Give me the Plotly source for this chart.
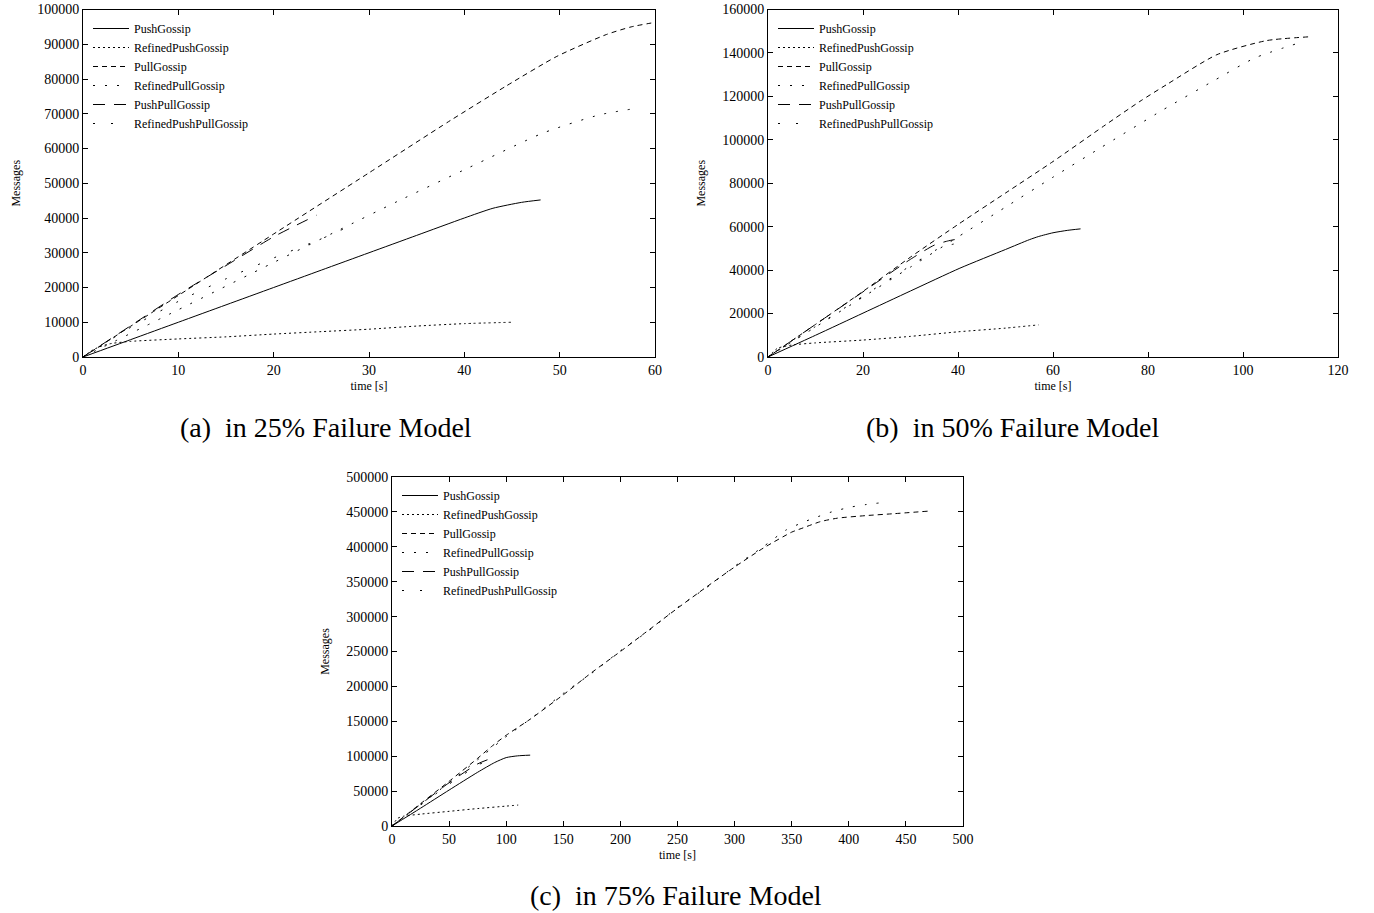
import plotly.graph_objects as go

W, H = 1374, 913
FONT = "Liberation Serif"

series_names = ["PushGossip", "RefinedPushGossip", "PullGossip",
                "RefinedPullGossip", "PushPullGossip", "RefinedPushPullGossip"]

# ---------- (a) 25% failure model ----------
a_push_t = [0, 5, 10, 15, 20, 25, 30, 35, 40, 43, 46, 48]
a_push_v = [0, 5000, 10000, 15000, 20000, 25000, 30000, 35000, 40000, 42800, 44500, 45200]
a_rpush_t = [0, 1, 2, 3, 5, 10, 15, 20, 25, 30, 35, 40, 45]
a_rpush_v = [0, 2000, 3200, 3900, 4500, 5200, 5800, 6600, 7300, 8000, 8900, 9600, 10000]
a_pull_t = [0, 10, 20, 30, 38.5, 44.4, 49.7, 54.9, 57.5, 60]
a_pull_v = [0, 17700, 35400, 53000, 68000, 78000, 86500, 92800, 95000, 96300]
a_rpull_t = [0, 10, 20, 26.9, 33, 40.4, 48.3, 54.2, 57.9]
a_rpull_v = [0, 13600, 27200, 36600, 44800, 54400, 64500, 69700, 71500]
a_pp_t = [0, 5, 10, 15, 20, 24.5]
a_pp_v = [0, 9000, 18000, 26300, 34600, 40800]
a_rpp_t = [0, 5, 10, 15, 20, 25, 28.5]
a_rpp_v = [0, 8500, 16000, 22500, 28500, 34000, 38300]

# ---------- (b) 50% failure model ----------
b_push_t = [0, 10, 20, 30, 40.4, 50, 55, 57, 60, 63, 65.8]
b_push_v = [0, 10000, 20200, 30400, 40900, 49500, 54000, 55500, 57200, 58300, 59000]
b_rpush_t = [0, 2, 5, 10, 20, 30, 40, 50, 57]
b_rpush_v = [0, 4000, 5500, 6500, 7800, 9500, 11600, 13300, 14800]
b_pull_t = [0, 10, 20, 30, 40.4, 50, 60, 70.6, 78.3, 83.9, 94.5, 105, 113.7]
b_pull_v = [0, 15000, 30200, 46000, 61600, 75500, 90000, 106200, 117700, 125400, 139200, 145700, 147400]
b_rpull_t = [0, 10, 20, 30, 40, 50, 60, 70, 83, 94, 102.5, 111.2]
b_rpull_v = [0, 13800, 27600, 41400, 55300, 69000, 82800, 96300, 113600, 127400, 137700, 144200]
b_pp_t = [0, 10, 20, 30, 35, 38, 40.5]
b_pp_v = [0, 15000, 30000, 45000, 51500, 53500, 54500]
b_rpp_t = [0, 10, 20, 30, 36, 40]
b_rpp_v = [0, 14000, 28000, 42000, 50000, 52500]

# ---------- (c) 75% failure model ----------
c_push_t = [0, 25, 50, 75, 90, 100, 110, 121]
c_push_v = [0, 25500, 51500, 77000, 91000, 98000, 100500, 101500]
c_rpush_t = [0, 5, 10, 25, 50, 75, 100, 110.5]
c_rpush_v = [0, 11000, 14000, 17000, 21000, 25000, 28500, 30000]
c_pull_t = [0, 25, 50, 75, 88, 100, 121, 150, 175, 200, 225, 250, 275, 300, 325, 350,
            360, 375, 390, 415, 440, 469]
c_pull_v = [0, 32000, 64000, 97000, 115000, 130000, 153000, 188000, 220000, 250000, 281000,
            312000, 342000, 371000, 398000, 421000, 427100, 436000, 441000, 444700, 447500, 451000]
c_rpull_t = [0, 25, 50, 75, 100, 125, 150, 175, 200, 225, 250, 275, 300, 325, 345, 360, 370,
             385, 400.8, 415, 431.4]
c_rpull_v = [0, 31000, 62000, 95000, 128000, 158000, 190000, 219000, 251000, 280000, 313000,
             341000, 372000, 400000, 424000, 435100, 441400, 450000, 456600, 460500, 463700]
c_pp_t = [0, 25, 50, 75, 87]
c_pp_v = [0, 31000, 62000, 89000, 97000]
c_rpp_t = [0, 25, 50, 75, 85]
c_rpp_v = [0, 30000, 60000, 87000, 95000]

dashes = ["solid", "2px,3px", "5px,4px", "2px,10px", "12px,9px", "2px,16px"]

panels = [
    ("x", "y", "legend",
     [(a_push_t, a_push_v), (a_rpush_t, a_rpush_v), (a_pull_t, a_pull_v),
      (a_rpull_t, a_rpull_v), (a_pp_t, a_pp_v), (a_rpp_t, a_rpp_v)]),
    ("x2", "y2", "legend2",
     [(b_push_t, b_push_v), (b_rpush_t, b_rpush_v), (b_pull_t, b_pull_v),
      (b_rpull_t, b_rpull_v), (b_pp_t, b_pp_v), (b_rpp_t, b_rpp_v)]),
    ("x3", "y3", "legend3",
     [(c_push_t, c_push_v), (c_rpush_t, c_rpush_v), (c_pull_t, c_pull_v),
      (c_rpull_t, c_rpull_v), (c_pp_t, c_pp_v), (c_rpp_t, c_rpp_v)]),
]

fig = go.Figure()
for xa, ya, lg, data in panels:
    for name, dash, (t, v) in zip(series_names, dashes, data):
        fig.add_trace(go.Scatter(
            x=t, y=v, mode="lines", name=name, xaxis=xa, yaxis=ya, legend=lg,
            line=dict(color="black", width=1, dash=dash, shape="spline", smoothing=0.6),
        ))


def px_x(p):
    return p / W


def px_y(p):
    return 1 - p / H


axis_common = dict(showline=True, linecolor="black", linewidth=1, mirror="allticks",
                   ticks="inside", ticklen=5, tickcolor="black", showgrid=False,
                   zeroline=False, automargin=False,
                   tickfont=dict(family=FONT, size=14, color="black"),
                   tickformat="d")


def xaxis(dom, rng, dt, anchor):
    return dict(axis_common, domain=dom, range=rng, dtick=dt, anchor=anchor,
                title=dict(text="time [s]", font=dict(family=FONT, size=12, color="black"), standoff=4))


def yaxis(dom, rng, dt, anchor):
    return dict(axis_common, domain=dom, range=rng, dtick=dt, anchor=anchor,
                title=dict(text="Messages", font=dict(family=FONT, size=12, color="black"), standoff=14))


ya_dom = [px_y(357), px_y(9.5)]
yc_dom = [px_y(826), px_y(477)]

legend_common = dict(bgcolor="rgba(0,0,0,0)", borderwidth=0, xanchor="left", yanchor="top",
                     font=dict(family=FONT, size=12, color="black"), itemwidth=36,
                     tracegroupgap=0)

caption_font = dict(family=FONT, size=28, color="black")


def caption(text, x, y):
    return dict(text=text, x=px_x(x), y=px_y(y), xref="paper", yref="paper",
                xanchor="center", yanchor="middle", showarrow=False, font=caption_font)


fig.update_layout(
    width=W, height=H, margin=dict(l=0, r=0, t=0, b=0, autoexpand=False),
    paper_bgcolor="white", plot_bgcolor="white",
    font=dict(family=FONT, color="black"),
    xaxis=xaxis([px_x(83), px_x(655)], [0, 60], 10, "y"),
    yaxis=yaxis(ya_dom, [0, 100000], 10000, "x"),
    xaxis2=xaxis([px_x(768), px_x(1338)], [0, 120], 20, "y2"),
    yaxis2=yaxis(ya_dom, [0, 160000], 20000, "x2"),
    xaxis3=xaxis([px_x(392), px_x(963)], [0, 500], 50, "y3"),
    yaxis3=yaxis(yc_dom, [0, 500000], 50000, "x3"),
    legend=dict(legend_common, x=px_x(88), y=px_y(14)),
    legend2=dict(legend_common, x=px_x(773), y=px_y(14)),
    legend3=dict(legend_common, x=px_x(397), y=px_y(481)),
    showlegend=True,
    annotations=[
        caption("(a)&nbsp; in 25% Failure Model", 326, 427),
        caption("(b)&nbsp; in 50% Failure Model", 1012, 427),
        caption("(c)&nbsp; in 75% Failure Model", 676, 895),
    ],
)

fig.write_html("out.html", config={"displayModeBar": False},
               post_script="document.body.style.margin='0';")
